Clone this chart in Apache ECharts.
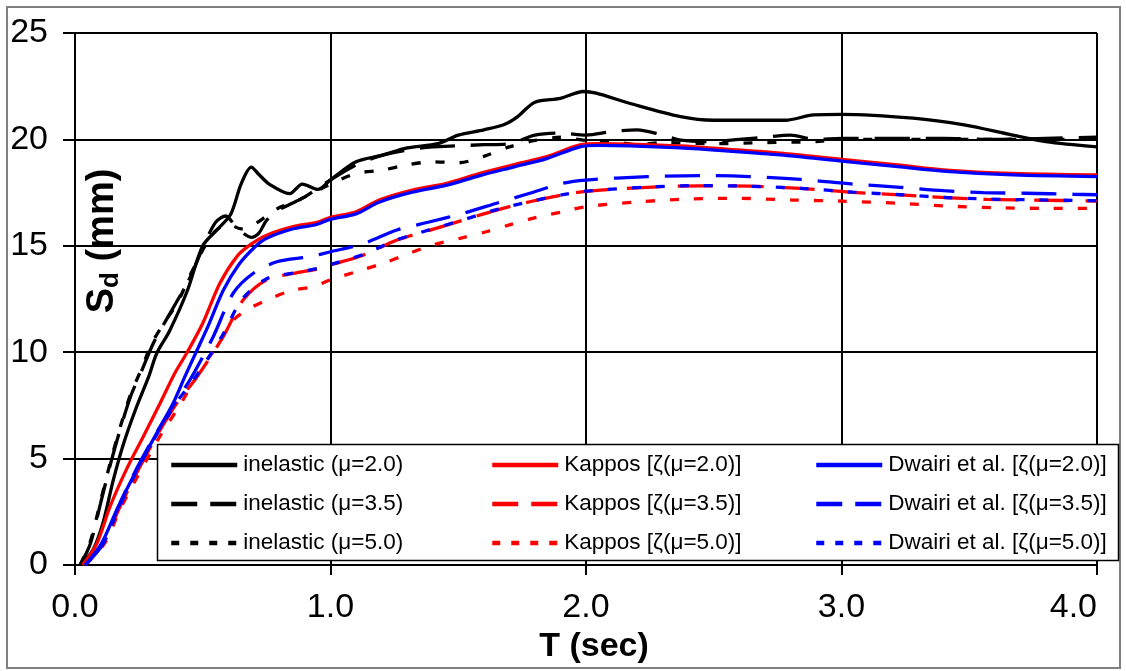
<!DOCTYPE html>
<html><head><meta charset="utf-8">
<script src="https://cdn.jsdelivr.net/npm/echarts@6/dist/echarts.min.js"></script>
<style>html,body{margin:0;padding:0;background:#fff}#c{width:1126px;height:671px}</style>
</head><body><div id="c"></div>
<script>
// ---- data: [T (sec), Sd (mm)] ----
const inelastic20 = [[0.02,0],[0.07,0.7],[0.11,2.0],[0.15,4.0],[0.19,5.7],[0.24,7.4],[0.29,8.9],[0.32,9.95],[0.37,11.0],[0.44,12.9],[0.50,15.0],[0.56,15.8],[0.61,16.5],[0.65,17.9],[0.69,18.7],[0.72,18.35],[0.76,17.9],[0.84,17.45],[0.89,17.9],[0.95,17.65],[1.0,18.1],[1.1,18.95],[1.2,19.25],[1.3,19.6],[1.42,19.8],[1.5,20.2],[1.6,20.45],[1.68,20.7],[1.73,21.05],[1.8,21.75],[1.9,21.93],[1.99,22.25],[2.04,22.17],[2.17,21.7],[2.37,21.07],[2.5,20.9],[2.78,20.9],[2.89,21.15],[3.0,21.18],[3.28,21.0],[3.48,20.68],[3.67,20.2],[3.8,19.9],[4.0,19.65]];
const inelastic35 = [[0.02,0],[0.06,1.0],[0.1,2.9],[0.14,4.8],[0.18,6.5],[0.22,8.0],[0.26,9.1],[0.31,10.5],[0.385,12.1],[0.45,13.5],[0.5,14.9],[0.55,16.1],[0.59,16.4],[0.63,15.9],[0.69,15.4],[0.72,15.6],[0.75,16.2],[0.8,16.7],[0.85,17.0],[0.9,17.3],[0.95,17.7],[1.0,18.1],[1.1,18.8],[1.2,19.25],[1.3,19.5],[1.4,19.65],[1.5,19.7],[1.6,19.75],[1.7,19.8],[1.8,20.2],[1.9,20.3],[2.0,20.2],[2.1,20.36],[2.2,20.45],[2.3,20.2],[2.37,19.97],[2.5,19.9],[2.6,20.0],[2.7,20.1],[2.8,20.2],[2.9,20.0],[3.0,20.05],[3.4,20.05],[3.6,20.0],[3.8,20.05],[4.0,20.1]];
const inelastic50 = [[0.02,0],[0.06,1.1],[0.1,3.0],[0.14,4.9],[0.18,6.6],[0.22,8.1],[0.26,9.2],[0.3,10.4],[0.35,11.4],[0.4,12.3],[0.45,13.6],[0.5,14.8],[0.55,15.7],[0.6,16.0],[0.65,15.8],[0.7,16.0],[0.75,16.4],[0.8,16.8],[0.85,17.0],[0.9,17.3],[1.0,17.9],[1.1,18.4],[1.2,18.55],[1.3,18.8],[1.4,18.95],[1.5,18.9],[1.6,19.2],[1.7,19.65],[1.8,19.95],[1.9,20.1],[2.0,19.95],[2.1,19.9],[2.2,19.75],[2.3,19.85],[2.5,19.8],[2.7,19.85],[2.9,19.9],[3.0,20.0],[3.5,20.0],[4.0,20.0]];
const kappos20 = [[0.03,0],[0.085,1.0],[0.137,2.74],[0.2,4.46],[0.267,6.03],[0.333,7.6],[0.39,9.0],[0.437,9.95],[0.5,11.36],[0.567,13.24],[0.633,14.49],[0.685,15.04],[0.75,15.5],[0.854,15.9],[0.946,16.1],[1.0,16.34],[1.1,16.6],[1.19,17.15],[1.32,17.62],[1.455,17.94],[1.585,18.4],[1.715,18.8],[1.846,19.19],[1.976,19.74],[2.05,19.8],[2.17,19.78],[2.37,19.69],[2.56,19.53],[2.76,19.35],[3.0,19.06],[3.22,18.8],[3.41,18.56],[3.67,18.4],[4.0,18.33]];
const kappos35 = [[0.04,0],[0.11,1.0],[0.176,2.74],[0.254,4.62],[0.333,6.34],[0.398,7.6],[0.475,8.8],[0.58,10.73],[0.658,12.45],[0.75,13.4],[0.854,13.7],[0.959,13.94],[1.0,14.1],[1.13,14.57],[1.26,15.27],[1.39,15.74],[1.52,16.21],[1.65,16.68],[1.78,17.07],[1.91,17.39],[2.0,17.56],[2.24,17.75],[2.45,17.82],[2.64,17.8],[2.84,17.7],[3.045,17.51],[3.23,17.39],[3.41,17.26],[3.57,17.18],[3.75,17.15],[4.0,17.1]];
const kappos50 = [[0.04,0],[0.115,1.0],[0.18,2.7],[0.26,4.5],[0.34,6.2],[0.41,7.5],[0.49,9.16],[0.554,10.26],[0.619,11.5],[0.672,11.98],[0.75,12.45],[0.854,12.92],[0.932,13.08],[1.0,13.4],[1.1,13.78],[1.207,14.18],[1.31,14.65],[1.4,15.04],[1.507,15.35],[1.61,15.66],[1.7,15.98],[1.807,16.34],[1.91,16.6],[2.0,16.84],[2.21,17.07],[2.41,17.2],[2.6,17.23],[2.81,17.15],[3.0,17.1],[3.22,17.0],[3.41,16.87],[3.6,16.79],[3.8,16.76],[4.0,16.76]];
const dwairi20 = [[0.04,0],[0.104,1.02],[0.163,2.58],[0.241,4.46],[0.32,6.2],[0.384,7.6],[0.43,8.85],[0.474,10.0],[0.52,11.2],[0.58,12.9],[0.64,14.1],[0.7,14.9],[0.75,15.35],[0.854,15.8],[0.946,16.0],[1.0,16.25],[1.1,16.5],[1.19,17.05],[1.32,17.52],[1.455,17.85],[1.585,18.3],[1.715,18.7],[1.846,19.1],[1.976,19.65],[2.05,19.72],[2.17,19.7],[2.37,19.6],[2.56,19.45],[2.76,19.27],[3.0,18.98],[3.22,18.72],[3.41,18.5],[3.67,18.33],[4.0,18.25]];
const dwairi35 = [[0.04,0],[0.11,1.0],[0.17,2.74],[0.245,4.62],[0.325,6.34],[0.39,7.6],[0.455,8.8],[0.541,10.73],[0.619,12.77],[0.698,13.71],[0.79,14.25],[0.92,14.49],[1.0,14.72],[1.128,15.1],[1.26,15.74],[1.39,16.13],[1.52,16.53],[1.65,17.0],[1.78,17.47],[1.91,17.94],[2.0,18.09],[2.24,18.25],[2.45,18.3],[2.64,18.25],[2.84,18.12],[3.045,17.9],[3.23,17.75],[3.4,17.59],[3.555,17.5],[3.72,17.47],[3.91,17.42],[4.0,17.4]];
const dwairi50 = [[0.04,0],[0.11,1.0],[0.174,2.74],[0.25,4.62],[0.33,6.34],[0.395,7.6],[0.47,8.8],[0.575,10.75],[0.655,12.5],[0.75,13.45],[0.854,13.72],[0.959,13.96],[1.0,14.12],[1.13,14.6],[1.26,15.28],[1.39,15.76],[1.52,16.22],[1.65,16.7],[1.78,17.08],[1.91,17.4],[2.0,17.57],[2.24,17.76],[2.45,17.83],[2.64,17.8],[2.84,17.7],[3.045,17.52],[3.23,17.4],[3.41,17.27],[3.57,17.2],[3.75,17.16],[4.0,17.12]];

const seriesNames = ['inelastic (μ=2.0)','inelastic (μ=3.5)','inelastic (μ=5.0)',
  'Kappos [ζ(μ=2.0)]','Kappos [ζ(μ=3.5)]','Kappos [ζ(μ=5.0)]',
  'Dwairi et al. [ζ(μ=2.0)]','Dwairi et al. [ζ(μ=3.5)]','Dwairi et al. [ζ(μ=5.0)]'];
const seriesData = [inelastic20,inelastic35,inelastic50,kappos20,kappos35,kappos50,dwairi20,dwairi35,dwairi50];
const xAxisTitle = 'T (sec)';

// ---- styles ----
const colors = ['#000000','#000000','#000000','#ff0000','#ff0000','#ff0000','#0000ff','#0000ff','#0000ff'];
const DASH = [35,16], DOT = [9,15];
const dashes = ['solid',DASH,DOT,'solid',DASH,DOT,'solid',DASH,DOT];
const legDash = ['solid',[26,13],[8,11]];
const FONT = "'Liberation Sans',Arial,sans-serif";

const chart = echarts.init(document.getElementById('c'), null, {renderer:'canvas'});

const series = seriesNames.map((n,i)=>({
  name:n, type:'line', data:seriesData[i], showSymbol:false, symbol:'none',
  smooth:0.3, animation:false,
  lineStyle:{color:colors[i], width:3.3, type:dashes[i]},
  itemStyle:{color:colors[i]}, z:2+i*0.01
}));

function legendCol(startIdx, left){
  return {
    orient:'vertical', left:left, top:452, padding:0, itemWidth:66, itemHeight:14, itemGap:13,
    selectedMode:false,
    lineStyle:{width:4.5},
    textStyle:{fontFamily:FONT, fontSize:22.5, lineHeight:26, color:'#000', padding:[0,0,0,1]},
    data:[0,1,2].map(k=>({name:seriesNames[startIdx+k],
      itemStyle:{opacity:0},
      lineStyle:{type:legDash[k], width:4.5, color:colors[startIdx+k]}})),
    z:5
  };
}

const option = {
  backgroundColor:'#fff',
  animation:false,
  grid:{left:75, right:29, top:33, bottom:106, outerBoundsMode:'none', containLabel:false},
  xAxis:{type:'value', min:0, max:4, interval:1,
    axisLine:{show:true, onZero:false, lineStyle:{color:'#000', width:2}},
    axisTick:{show:true, length:10, lineStyle:{color:'#000', width:2}},
    axisLabel:{margin:26, fontFamily:FONT, fontSize:34, color:'#000', alignMaxLabel:'right', formatter:v=>v.toFixed(1)},
    splitLine:{show:true, lineStyle:{color:'#000', width:2}},
    name:xAxisTitle, nameLocation:'middle', nameGap:49,
    nameTextStyle:{fontFamily:FONT, fontSize:34, fontWeight:'bold', color:'#000', padding:[0,0,0,16]}
  },
  yAxis:{type:'value', min:0, max:25, interval:5,
    axisLine:{show:true, lineStyle:{color:'#000', width:2}},
    axisTick:{show:true, length:12, lineStyle:{color:'#000', width:2}},
    axisLabel:{margin:27, fontFamily:FONT, fontSize:34, color:'#000'},
    splitLine:{show:true, lineStyle:{color:'#000', width:2}}
  },
  legend:[legendCol(0,169), legendCol(3,490), legendCol(6,814)],
  graphic:[
    {type:'rect', z:0, silent:true, shape:{x:7,y:7,width:1113,height:661},
     style:{fill:null, stroke:'#808080', lineWidth:2}},
    {type:'rect', z:4, silent:true, shape:{x:157.5,y:444.5,width:961,height:116},
     style:{fill:'#fff', stroke:'#000', lineWidth:1.5}},
    {type:'text', z:6, silent:true, x:103, y:241, rotation:Math.PI/2,
     style:{text:'{s|S}{d|d}{s| (mm)}', align:'center', verticalAlign:'middle',
       rich:{s:{fontFamily:FONT, fontSize:38, fontWeight:'bold', lineHeight:42, fill:'#000'},
             d:{fontFamily:FONT, fontSize:26, fontWeight:'bold', lineHeight:30, verticalAlign:'bottom', fill:'#000'}}}}
  ],
  series:series
};
chart.setOption(option);
</script></body></html>
